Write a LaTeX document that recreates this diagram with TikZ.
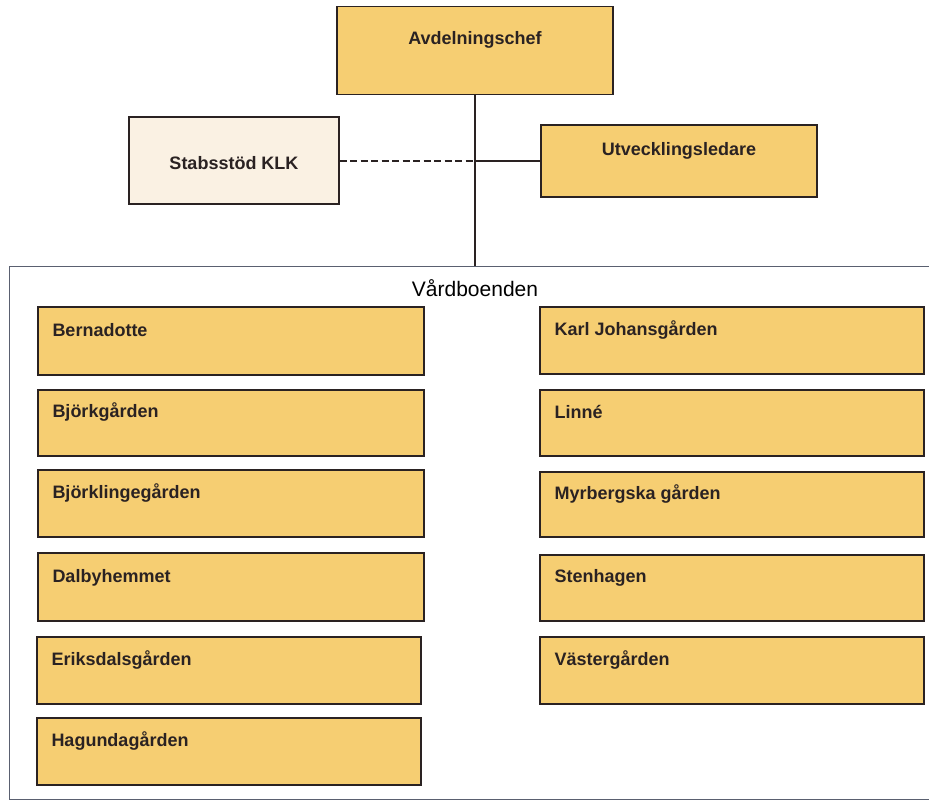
\documentclass[tikz,border=0pt]{standalone}
\usepackage{fontspec}
\setmainfont{Liberation Sans}
\usetikzlibrary{calc}
\definecolor{gold}{HTML}{F6CE72}
\definecolor{cream}{HTML}{FAF1E3}
\definecolor{edge}{HTML}{2A2222}
\definecolor{frame}{HTML}{5A6070}
\tikzset{
  box/.style={draw=edge, line width=1.4pt, fill=gold, rectangle, inner sep=0pt},
  lbl/.style={anchor=west, inner sep=0pt, font=\fontsize{18}{20}\selectfont\bfseries, text=edge},
  ctr/.style={inner sep=0pt, font=\fontsize{18}{20}\selectfont\bfseries, text=edge},
  conn/.style={draw=edge, line width=1.3pt}
}
\begin{document}
\begin{tikzpicture}[x=1pt,y=-1pt]
\useasboundingbox (0,0) rectangle (929,800);
% container
\draw[frame, line width=0.9pt] (950,266) -- (9,266) -- (9,799) -- (950,799);
\node[inner sep=0pt, font=\fontsize{21}{24}\selectfont, text=black] (title) at (475,288) {Vårdboenden};

% top boxes
\node[box, minimum width=276, minimum height=88] (chef) at (475,50.5) {};
\node[ctr] (chefT) at (475,40) {Avdelningschef};
\node[box, fill=cream, minimum width=210, minimum height=87] (stab) at (234,160.5) {};
\node[ctr] (stabT) at (234,163) {Stabsstöd KLK};
\node[box, minimum width=276, minimum height=72] (utv) at (679,161) {};
\node[ctr] (utvT) at (679,151) {Utvecklingsledare};

\coordinate (junc) at (chef.south |- 0,161);
\coordinate (bot) at (chef.south |- 0,266);
\draw[conn] (chef.south) -- (bot);
\draw[conn, dash pattern=on 7pt off 3.5pt] (stab.east |- junc) -- (junc);
\draw[conn] (junc) -- (utv.west |- junc);

% left column
\node[box, minimum width=386, minimum height=68] (l1) at (231,341) {};
\node[box, minimum width=386, minimum height=66] (l2) at (231,423) {};
\node[box, minimum width=386, minimum height=67] (l3) at (231,503.5) {};
\node[box, minimum width=386, minimum height=68] (l4) at (231,587) {};
\node[box, minimum width=384, minimum height=67] (l5) at (229,670.5) {};
\node[box, minimum width=384, minimum height=67] (l6) at (229,751.5) {};
\node[lbl] (l1T) at ($(l1.west)+(15,-11)$) {Bernadotte};
\node[lbl] (l2T) at ($(l2.west)+(15,-11)$) {Björkgården};
\node[lbl] (l3T) at ($(l3.west)+(15,-11)$) {Björklingegården};
\node[lbl] (l4T) at ($(l4.west)+(15,-9)$) {Dalbyhemmet};
\node[lbl] (l5T) at ($(l5.west)+(15,-11)$) {Eriksdalsgården};
\node[lbl] (l6T) at ($(l6.west)+(15,-11)$) {Hagundagården};

% right column
\node[box, minimum width=384, minimum height=67] (r1) at (732,340.5) {};
\node[box, minimum width=384, minimum height=66] (r2) at (732,423) {};
\node[box, minimum width=384, minimum height=65] (r3) at (732,504.5) {};
\node[box, minimum width=384, minimum height=66] (r4) at (732,588) {};
\node[box, minimum width=384, minimum height=67] (r5) at (732,670.5) {};
\node[lbl] (r1T) at ($(r1.west)+(15,-11)$) {Karl Johansgården};
\node[lbl] (r2T) at ($(r2.west)+(15,-11)$) {Linné};
\node[lbl] (r3T) at ($(r3.west)+(15,-11)$) {Myrbergska gården};
\node[lbl] (r4T) at ($(r4.west)+(15,-10)$) {Stenhagen};
\node[lbl] (r5T) at ($(r5.west)+(15,-11)$) {Västergården};
\end{tikzpicture}
\end{document}
